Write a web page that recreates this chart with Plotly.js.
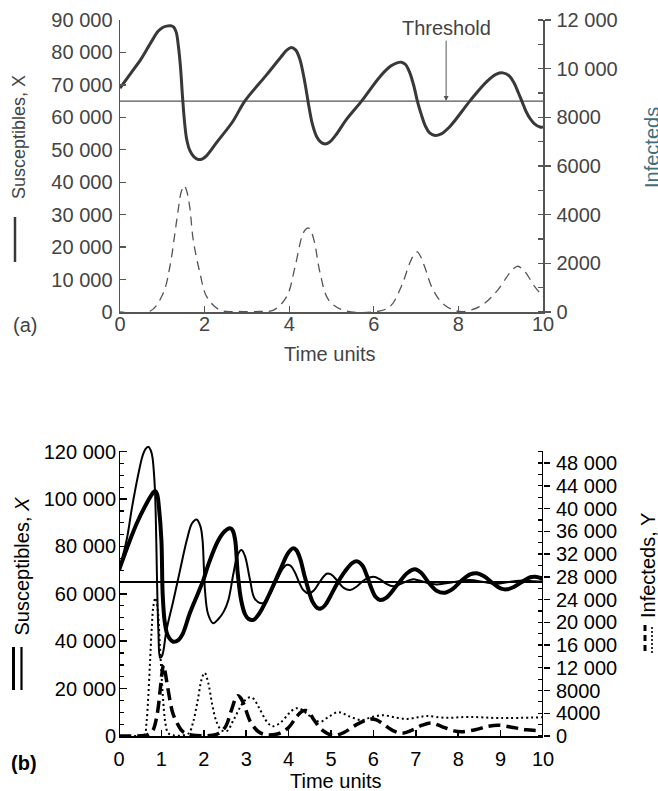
<!DOCTYPE html>
<html>
<head>
<meta charset="utf-8">
<script src="https://cdn.plot.ly/plotly-3.0.1.min.js"></script>
<style>
  html, body { margin: 0; padding: 0; background: #ffffff; }
  #chart { width: 658px; height: 791px; }
</style>
</head>
<body>
<div id="chart"></div>
<script>
// ---------- Panel (a): simple epidemic model ----------
const threshold = 65000;

const tA_S = [0, 0.25, 0.5, 0.75, 0.9, 1.0, 1.1, 1.2, 1.27, 1.33, 1.38, 1.43, 1.48, 1.53, 1.58, 1.65, 1.75, 1.85, 1.95, 2.05, 2.3, 2.67, 2.95, 3.46, 3.8, 3.95, 4.05, 4.15, 4.25, 4.33, 4.4, 4.47, 4.55, 4.65, 4.75, 4.85, 4.95, 5.1, 5.35, 5.71, 6.15, 6.4, 6.55, 6.65, 6.75, 6.85, 6.95, 7.03, 7.12, 7.22, 7.32, 7.45, 7.58, 7.8, 8.27, 8.67, 8.9, 9.05, 9.2, 9.32, 9.42, 9.5, 9.6, 9.7, 9.8, 9.93, 10];
const susA = [69000, 73500, 78000, 83500, 86500, 87600, 88100, 88200, 87800, 86200, 82000, 75500, 66000, 58000, 53000, 49800, 47800, 47000, 47200, 48200, 52500, 58800, 65000, 73000, 78500, 80800, 81500, 80800, 78000, 73500, 68500, 63000, 57800, 54000, 52300, 51800, 52300, 54500, 59300, 65000, 72600, 75800, 76800, 77000, 76300, 73800, 69500, 65000, 61000, 57300, 55200, 54400, 54800, 57200, 65000, 71000, 73300, 73700, 72800, 70500, 67500, 65000, 61800, 59500, 58000, 57000, 57000];

const tA_I = [0, 0.71, 1.02, 1.18, 1.3, 1.38, 1.45, 1.52, 1.58, 1.65, 1.73, 1.89, 2.05, 2.36, 2.8, 3.3, 3.63, 3.94, 4.14, 4.3, 4.38, 4.45, 4.52, 4.6, 4.73, 4.93, 5.27, 5.99, 6.38, 6.65, 6.85, 6.95, 7.03, 7.1, 7.2, 7.4, 7.67, 8.03, 8.5, 8.9, 9.21, 9.33, 9.41, 9.5, 9.6, 9.8, 9.93, 10];
const infA = [0, 30, 770, 1870, 3260, 4250, 4950, 5190, 4950, 4300, 2980, 1600, 630, 80, 20, 20, 80, 630, 1870, 3100, 3380, 3460, 3300, 2850, 1600, 500, 80, 0, 220, 1050, 2010, 2350, 2470, 2300, 1870, 910, 290, 20, 220, 840, 1600, 1820, 1880, 1780, 1600, 1050, 770, 630];

const ticksA_left = [0, 10000, 20000, 30000, 40000, 50000, 60000, 70000, 80000, 90000];
const labelsA_left = ["0", "10 000", "20 000", "30 000", "40 000", "50 000", "60 000", "70 000", "80 000", "90 000"];
const ticksA_right = [0, 2000, 4000, 6000, 8000, 10000, 12000];
const labelsA_right = ["0", "2000", "4000", "6000", "8000", "10 000", "12 000"];

// ---------- Panel (b): two parameter sets ----------
const tB_S1 = [0, 0.26, 0.42, 0.61, 0.79, 0.85, 0.9, 0.94, 1.0, 1.03, 1.08, 1.15, 1.28, 1.4, 1.5, 1.67, 1.87, 1.99, 2.11, 2.34, 2.5, 2.62, 2.68, 2.74, 2.8, 2.88, 2.97, 3.05, 3.17, 3.3, 3.48, 3.8, 3.98, 4.1, 4.18, 4.27, 4.37, 4.47, 4.57, 4.68, 4.76, 4.86, 4.97, 5.15, 5.33, 5.5, 5.62, 5.74, 5.85, 5.95, 6.05, 6.16, 6.3, 6.55, 6.8, 6.98, 7.12, 7.3, 7.5, 7.69, 7.88, 8.08, 8.28, 8.44, 8.6, 8.84, 9.0, 9.14, 9.3, 9.5, 9.7, 9.81, 9.92, 10];
const susB1 = [70000, 82700, 89800, 96800, 102400, 103400, 102000, 96800, 82700, 60000, 48000, 42500, 39800, 40500, 43000, 51800, 60500, 65900, 72500, 82500, 86500, 87700, 86800, 82700, 68700, 57400, 51500, 49500, 49000, 51500, 57400, 70000, 77000, 79200, 78500, 75000, 68000, 61600, 56500, 54000, 53800, 55200, 58500, 64500, 69500, 73000, 73700, 72000, 67500, 62500, 58800, 57400, 58300, 63500, 68800, 70400, 69000, 64800, 61200, 60500, 62200, 65600, 68200, 68700, 67500, 64200, 62300, 61900, 62800, 65000, 67000, 67200, 66800, 66300];

const tB_S2 = [0, 0.18, 0.31, 0.46, 0.55, 0.62, 0.69, 0.75, 0.79, 0.82, 0.85, 0.88, 0.9, 0.93, 0.97, 1.02, 1.12, 1.28, 1.44, 1.6, 1.72, 1.83, 1.92, 1.97, 2.0, 2.03, 2.1, 2.22, 2.35, 2.47, 2.58, 2.7, 2.8, 2.89, 2.97, 3.09, 3.2, 3.37, 3.5, 3.7, 3.87, 3.95, 4.05, 4.15, 4.25, 4.35, 4.48, 4.6, 4.75, 4.9, 5.0, 5.15, 5.3, 5.45, 5.6, 5.8, 6.0, 6.15, 6.3, 6.47, 6.65, 6.85, 6.98, 7.2, 7.49, 7.9, 8.28, 8.6, 8.9, 9.2, 9.55, 9.8, 10];
const susB2 = [70000, 82700, 96800, 110900, 117900, 121000, 122100, 120500, 117500, 112000, 103000, 82000, 63000, 44000, 33000, 34000, 44700, 57000, 70000, 82700, 89700, 91400, 88500, 82700, 72000, 61000, 51500, 47600, 49500, 52500, 57400, 68700, 76500, 78500, 76000, 65900, 58000, 56000, 58000, 65000, 70800, 72200, 71800, 69000, 64800, 61500, 60200, 61500, 65500, 68500, 68200, 65500, 62500, 61600, 63000, 66000, 67200, 66200, 64300, 63200, 64200, 65800, 66100, 65000, 64000, 65000, 65800, 65000, 64300, 65000, 65600, 65300, 65200];

const tB_I1 = [0, 0.6, 0.7, 0.8, 0.9, 0.97, 1.01, 1.05, 1.09, 1.15, 1.27, 1.39, 1.5, 1.7, 2.0, 2.3, 2.5, 2.65, 2.75, 2.81, 2.87, 2.95, 3.1, 3.3, 3.5, 3.8, 4.0, 4.2, 4.32, 4.39, 4.47, 4.6, 4.8, 5.05, 5.3, 5.6, 5.85, 5.96, 6.07, 6.2, 6.45, 6.67, 6.9, 7.15, 7.37, 7.6, 7.9, 8.08, 8.4, 8.7, 8.95, 9.3, 9.6, 10];
const infB1 = [0, 100, 300, 1000, 3800, 8000, 10800, 12500, 11200, 8500, 4000, 2000, 800, 200, 50, 300, 1500, 4500, 6600, 7100, 6700, 5500, 2500, 700, 200, 500, 1500, 3500, 4350, 4500, 4300, 2800, 1000, 100, 600, 2000, 2850, 3000, 2850, 2300, 1000, 500, 1000, 1900, 2300, 1700, 900, 750, 1100, 1700, 1900, 1500, 1100, 950];

const tB_I2 = [0, 0.5, 0.6, 0.65, 0.69, 0.73, 0.77, 0.81, 0.86, 0.91, 0.96, 1.01, 1.06, 1.1, 1.16, 1.3, 1.5, 1.65, 1.75, 1.85, 1.95, 2.02, 2.1, 2.2, 2.3, 2.42, 2.55, 2.7, 2.9, 3.02, 3.1, 3.18, 3.3, 3.5, 3.62, 3.8, 4.0, 4.12, 4.2, 4.3, 4.45, 4.74, 4.95, 5.17, 5.45, 5.72, 5.95, 6.23, 6.55, 6.8, 7.05, 7.26, 7.7, 8.25, 9.0, 10];
const infB2 = [0, 50, 200, 2500, 6900, 12800, 18700, 22800, 24300, 22500, 16500, 9900, 4500, 2000, 500, 100, 100, 500, 2500, 6000, 10000, 11100, 9500, 5500, 2500, 1000, 900, 2800, 5600, 6600, 6800, 6500, 5000, 2400, 1700, 2300, 3900, 4700, 4900, 4700, 3800, 2500, 3400, 4200, 3400, 2800, 3300, 3650, 3200, 3000, 3300, 3500, 3200, 3350, 3150, 3300];

const ticksB_left = [0, 20000, 40000, 60000, 80000, 100000, 120000];
const labelsB_left = ["0", "20 000", "40 000", "60 000", "80 000", "100 000", "120 000"];
const ticksB_right = [0, 4000, 8000, 12000, 16000, 20000, 24000, 28000, 32000, 36000, 40000, 44000, 48000];
const labelsB_right = ["0", "4000", "8000", "12 000", "16 000", "20 000", "24 000", "28 000", "32 000", "36 000", "40 000", "44 000", "48 000"];
const timeTicksA = [0, 2, 4, 6, 8, 10];
const timeTicksB = [0, 1, 2, 3, 4, 5, 6, 7, 8, 9, 10];

// ---------- geometry helpers (page pixels -> paper fractions) ----------
const W = 658, H = 791;
const px = v => v / W;
const py = v => 1 - v / H;

const FONT = "Liberation Sans, Arial, Helvetica, sans-serif";
const greyA = "#444444";
const lineA = "#383838";

const rangeB = [0, 122500];
const rangeB_right = [0, 122500 * 50000 / 120000];

const traces = [
  // panel (a)
  { x: [0, 10], y: [threshold, threshold], xaxis: "x", yaxis: "y", mode: "lines",
    line: { color: "#555555", width: 1.3 }, hoverinfo: "skip" },
  { x: tA_S, y: susA, xaxis: "x", yaxis: "y", mode: "lines",
    line: { color: lineA, width: 3, shape: "spline", smoothing: 1 } },
  { x: tA_I, y: infA, xaxis: "x", yaxis: "y2", mode: "lines",
    line: { color: "#555555", width: 1.3, dash: "9px,6px", shape: "spline", smoothing: 1 } },
  // panel (b)
  { x: [0, 10], y: [threshold, threshold], xaxis: "x2", yaxis: "y3", mode: "lines",
    line: { color: "#000000", width: 2 }, hoverinfo: "skip" },
  { x: tB_S1, y: susB1, xaxis: "x2", yaxis: "y3", mode: "lines",
    line: { color: "#000000", width: 4, shape: "spline", smoothing: 1 } },
  { x: tB_S2, y: susB2, xaxis: "x2", yaxis: "y3", mode: "lines",
    line: { color: "#000000", width: 2, shape: "spline", smoothing: 1 } },
  { x: tB_I1, y: infB1, xaxis: "x2", yaxis: "y4", mode: "lines",
    line: { color: "#000000", width: 3.5, dash: "12px,6px", shape: "spline", smoothing: 1 } },
  { x: tB_I2, y: infB2, xaxis: "x2", yaxis: "y4", mode: "lines",
    line: { color: "#000000", width: 2, dash: "2px,3px", shape: "spline", smoothing: 1 } }
];

const tickFontA = { family: FONT, size: 20, color: greyA };
const tickFontB = { family: FONT, size: 20, color: "#000000" };

const layout = {
  width: W, height: H,
  margin: { l: 0, r: 0, t: 0, b: 0 },
  paper_bgcolor: "#ffffff", plot_bgcolor: "rgba(0,0,0,0)",
  showlegend: false,
  font: { family: FONT },
  // (a) axes
  xaxis: {
    domain: [px(120), px(543)], range: [0, 10], anchor: "y",
    tickvals: timeTicksA, ticktext: timeTicksA.map(String),
    ticks: "inside", ticklen: 6, tickwidth: 1.3, tickcolor: "#555",
    showline: true, linecolor: "#555", linewidth: 1.5,
    showgrid: false, zeroline: false, tickfont: tickFontA, ticklabelstandoff: -7
  },
  yaxis: {
    domain: [py(312), py(20)], range: [0, 90000], anchor: "x",
    tickvals: ticksA_left, ticktext: labelsA_left,
    ticks: "inside", ticklen: 6, tickwidth: 1.3, tickcolor: "#555",
    showline: true, linecolor: "#555", linewidth: 1.5,
    showgrid: false, zeroline: false, tickfont: tickFontA, ticklabelstandoff: 2
  },
  yaxis2: {
    overlaying: "y", side: "right", anchor: "x", range: [0, 12000],
    tickvals: ticksA_right, ticktext: labelsA_right,
    ticks: "outside", ticklen: 6, tickwidth: 1.3, tickcolor: "#555",
    minor: { dtick: 1000, ticks: "inside", ticklen: 5, tickwidth: 1.2, tickcolor: "#555" },
    showline: true, linecolor: "#555", linewidth: 1.5,
    showgrid: false, zeroline: false, tickfont: tickFontA, ticklabelstandoff: 2
  },
  // (b) axes
  xaxis2: {
    domain: [px(119), px(543)], range: [0, 10], anchor: "y3",
    tickvals: timeTicksB, ticktext: timeTicksB.map(String),
    ticks: "inside", ticklen: 6, tickwidth: 1.5, tickcolor: "#000",
    showline: true, linecolor: "#000", linewidth: 2,
    showgrid: false, zeroline: false, tickfont: tickFontB, ticklabelstandoff: 4
  },
  yaxis3: {
    domain: [py(736), py(736 - 122.5 * (284.3 / 120))], range: rangeB, anchor: "x2",
    tickvals: ticksB_left, ticktext: labelsB_left,
    ticks: "inside", ticklen: 8, tickwidth: 1.5, tickcolor: "#000",
    minor: { dtick: 5000, ticks: "inside", ticklen: 5, tickwidth: 1.3, tickcolor: "#000" },
    showline: false, showgrid: false, zeroline: false, tickfont: tickFontB, ticklabelstandoff: 2
  },
  yaxis4: {
    overlaying: "y3", side: "right", anchor: "x2", range: rangeB_right,
    tickvals: ticksB_right, ticktext: labelsB_right,
    ticks: "outside", ticklen: 6, tickwidth: 1.5, tickcolor: "#000",
    minor: { dtick: 2000, ticks: "inside", ticklen: 5, tickwidth: 1.2, tickcolor: "#000" },
    showline: false, showgrid: false, zeroline: false, tickfont: tickFontB, ticklabelstandoff: 2
  },
  shapes: [
    // (b) vertical axis lines ending at the top tick
    { type: "line", xref: "x2", yref: "y3", x0: 0, x1: 0, y0: 0, y1: 120000,
      line: { color: "#000", width: 2 } },
    { type: "line", xref: "x2", yref: "y4", x0: 10, x1: 10, y0: 0, y1: 50000,
      line: { color: "#000", width: 2 } },
    // line-style keys beside the axis titles
    { type: "line", xref: "paper", yref: "paper", x0: px(15), x1: px(15), y0: py(217), y1: py(262),
      line: { color: lineA, width: 2.5 } },
    { type: "line", xref: "paper", yref: "paper", x0: px(13.5), x1: px(13.5), y0: py(647), y1: py(690),
      line: { color: "#000", width: 3 } },
    { type: "line", xref: "paper", yref: "paper", x0: px(21.5), x1: px(21.5), y0: py(647), y1: py(690),
      line: { color: "#000", width: 2.2 } },
    { type: "line", xref: "paper", yref: "paper", x0: px(645), x1: px(645), y0: py(625), y1: py(653),
      line: { color: "#000", width: 3, dash: "6px,4px" } },
    { type: "line", xref: "paper", yref: "paper", x0: px(652), x1: px(652), y0: py(627), y1: py(653),
      line: { color: "#000", width: 1.6, dash: "2px,2px" } }
  ],
  annotations: [
    { xref: "x", yref: "y", x: 7.71, y: threshold, text: "Threshold",
      showarrow: true, ax: 0, ay: -73, arrowhead: 2, arrowsize: 1, arrowwidth: 1, arrowcolor: "#555",
      font: { family: FONT, size: 20, color: greyA } },
    { xref: "paper", yref: "paper", x: px(330), y: py(354), text: "Time units", showarrow: false,
      xanchor: "center", yanchor: "middle", font: { family: FONT, size: 20, color: greyA } },
    { xref: "paper", yref: "paper", x: px(25), y: py(325), text: "(a)", showarrow: false,
      xanchor: "center", yanchor: "middle", font: { family: FONT, size: 20, color: greyA } },
    { xref: "paper", yref: "paper", x: px(19), y: py(137), text: "Susceptibles, X", showarrow: false,
      textangle: -90, xanchor: "center", yanchor: "middle", font: { family: FONT, size: 18, color: greyA } },
    { xref: "paper", yref: "paper", x: px(652), y: py(148), text: "Infecteds", showarrow: false,
      textangle: -90, xanchor: "center", yanchor: "middle", font: { family: FONT, size: 20, color: "#3f6f7c" } },
    { xref: "paper", yref: "paper", x: px(336), y: py(781), text: "Time units", showarrow: false,
      xanchor: "center", yanchor: "middle", font: { family: FONT, size: 20, color: "#000" } },
    { xref: "paper", yref: "paper", x: px(24), y: py(763), text: "<b>(b)</b>", showarrow: false,
      xanchor: "center", yanchor: "middle", font: { family: FONT, size: 20, color: "#000" } },
    { xref: "paper", yref: "paper", x: px(21.5), y: py(566), text: "Susceptibles, <i>X</i>", showarrow: false,
      textangle: -90, xanchor: "center", yanchor: "middle", font: { family: FONT, size: 20, color: "#000" } },
    { xref: "paper", yref: "paper", x: px(648), y: py(566), text: "Infecteds, Y", showarrow: false,
      textangle: -90, xanchor: "center", yanchor: "middle", font: { family: FONT, size: 20, color: "#000" } }
  ]
};

Plotly.newPlot("chart", traces, layout, { staticPlot: true, displayModeBar: false });
</script>
</body>
</html>
